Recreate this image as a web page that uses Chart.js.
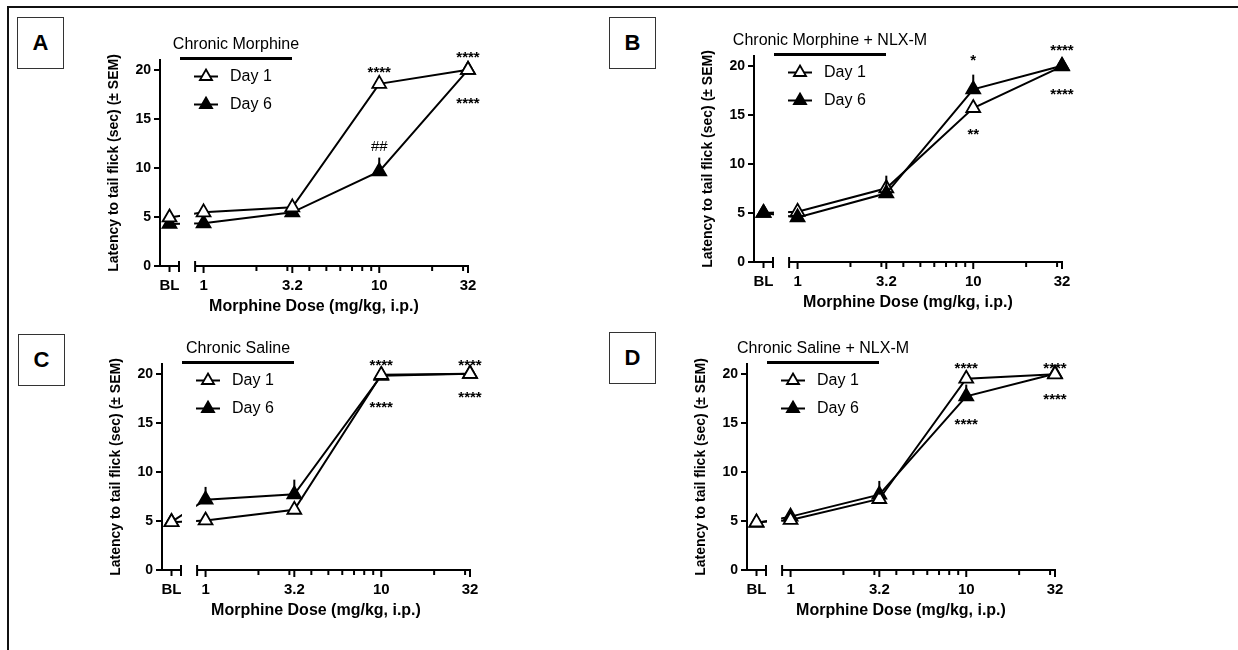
<!DOCTYPE html>
<html>
<head>
<meta charset="utf-8">
<script src="https://cdn.jsdelivr.net/npm/chart.js@4.4.1/dist/chart.umd.min.js"></script>
<style>
  body { margin: 0; background: #fff; width: 1238px; height: 650px; overflow: hidden; position: relative; }
  #frame { position: absolute; left: 7px; top: 6px; width: 1250px; height: 660px; border-top: 2px solid #111; border-left: 2px solid #111; }
  .tag { position: absolute; width: 45px; height: 50px; border: 1px solid #333; font: bold 22px "Liberation Sans", Arial, sans-serif;
         display: flex; align-items: center; justify-content: center; color: #000; }
  canvas { position: absolute; }
</style>
</head>
<body>
<div id="frame"></div>
<div class="tag" style="left:17px;top:17px">A</div>
<div class="tag" style="left:609px;top:17px">B</div>
<div class="tag" style="left:18px;top:334px">C</div>
<div class="tag" style="left:609px;top:332px">D</div>
<canvas id="cA" width="460" height="316" style="left:70px;top:4px"></canvas>
<canvas id="cB" width="460" height="316" style="left:664px;top:0px"></canvas>
<canvas id="cC" width="460" height="316" style="left:72px;top:308px"></canvas>
<canvas id="cD" width="460" height="316" style="left:657px;top:308px"></canvas>
<script>
const FONT = '"Liberation Sans", Arial, sans-serif';

// x axis: baseline (BL) then morphine doses on a log axis
const xTickLabels = ['BL', '1', '3.2', '10', '32'];
const doses = [1, 3.2, 10, 32];
const minorDoses = [2, 3, 4, 5, 6, 7, 8, 9, 20, 30];
const seriesNames = ['Day 1', 'Day 6'];
const panelTitles = ['Chronic Morphine', 'Chronic Morphine + NLX-M', 'Chronic Saline', 'Chronic Saline + NLX-M'];

// A - chronic morphine
const day1A = [4.95, 5.47, 5.98, 18.57, 20.0];
const day6A = [4.29, 4.35, 5.47, 9.65, 20.0];
const sem6A = [0, 0, 0, 1.4, 0];
const marksA = [[10, 20.2, '****'], [32, 21.7, '****'], [32, 17.0, '****'], [10, 12.3, '##']];

// B - chronic morphine + NLX-M
const day1B = [5.0, 5.12, 7.52, 15.7, 19.95];
const day6B = [5.0, 4.55, 7.0, 17.6, 20.0];
const sem6B = [0, 0, 1.8, 1.5, 0];
const marksB = [[10, 21.0, '*'], [32, 22.0, '****'], [32, 17.5, '****'], [10, 13.4, '**']];

// C - chronic saline
const day1C = [4.88, 5.05, 6.14, 19.9, 20.0];
const day6C = [4.9, 7.17, 7.71, 19.8, 20.0];
const sem6C = [0, 1.3, 1.5, 0, 0];
const marksC = [[10, 21.3, '****'], [32, 21.3, '****'], [10, 17.0, '****'], [32, 18.0, '****']];

// D - chronic saline + NLX-M
const day1D = [4.86, 5.1, 7.24, 19.5, 19.95];
const day6D = [4.8, 5.44, 7.68, 17.7, 20.0];
const sem6D = [0, 0, 1.4, 1.2, 0];
const marksD = [[10, 21.0, '****'], [32, 21.0, '****'], [10, 15.3, '****'], [32, 17.8, '****']];

// axis break layout (dose units on the log axis)
const X_MIN = 0.565, X_MAX = 32, BL_AT = 0.64, BL_END = 0.725, MAIN_START = 0.895;
const xValues = [BL_AT, ...doses];

function makeDecor(p) {
  return {
    id: 'decor',
    beforeDatasetsDraw(chart) {
      const { ctx, chartArea: a, scales: { x, y } } = chart;
      const y0 = y.getPixelForValue(0);
      const seg = (x1, y1, x2, y2) => { ctx.beginPath(); ctx.moveTo(x1, y1); ctx.lineTo(x2, y2); ctx.stroke(); };
      const pBL = x.getPixelForValue(BL_AT);
      const pEnd = x.getPixelForValue(BL_END);
      const pStart = x.getPixelForValue(MAIN_START);
      ctx.save();
      ctx.strokeStyle = '#000';
      ctx.lineWidth = 2;
      seg(a.left - 1, y0, pEnd, y0);
      seg(pBL, y0, pBL, y0 + 6);
      seg(pEnd, y0 - 5, pEnd, y0 + 6);
      seg(pStart, y0 - 5, pStart, y0 + 6);
      seg(pStart, y0, x.getPixelForValue(X_MAX) + 1, y0);
      doses.forEach(d => { const px = x.getPixelForValue(d); seg(px, y0, px, y0 + 7); });
      minorDoses.forEach(d => { const px = x.getPixelForValue(d); seg(px, y0, px, y0 + 5); });
      ctx.restore();
      // hide the connecting lines inside the axis gap
      ctx.save();
      ctx.beginPath();
      ctx.rect(0, 0, pEnd + 1, chart.height);
      ctx.rect(pStart - 1, 0, chart.width - pStart + 1, chart.height);
      ctx.clip();
    },
    afterDatasetsDraw(chart) {
      const { ctx, chartArea: a, scales: { x, y } } = chart;
      ctx.restore();
      ctx.save();
      ctx.strokeStyle = '#000';
      ctx.fillStyle = '#000';
      ctx.lineWidth = 2;

      // SEM bars (upper only)
      p.sem6.forEach((e, i) => {
        if (!e) return;
        const px = x.getPixelForValue(xValues[i]);
        ctx.beginPath();
        ctx.moveTo(px, y.getPixelForValue(p.day6[i]));
        ctx.lineTo(px, y.getPixelForValue(p.day6[i] + e));
        ctx.stroke();
      });

      // significance marks
      ctx.textAlign = 'center';
      ctx.textBaseline = 'alphabetic';
      p.marks.forEach(([d, v, t]) => {
        const star = t[0] === '*';
        const size = 15;
        ctx.font = (star ? 'bold ' : '') + size + 'px ' + FONT;
        ctx.fillText(t, x.getPixelForValue(d), y.getPixelForValue(v) + size * (star ? 0.58 : 0.35));
      });

      // panel title with bar
      ctx.font = '16px ' + FONT;
      ctx.textBaseline = 'middle';
      ctx.fillText(p.title, a.left + 76, a.top - 15);
      ctx.lineWidth = 3;
      ctx.beginPath();
      ctx.moveTo(a.left + 20, a.top - 1.5);
      ctx.lineTo(a.left + 132, a.top - 1.5);
      ctx.stroke();

      // legend
      ctx.lineWidth = 2;
      ctx.textAlign = 'left';
      [16.5, 44.5].forEach((dy, k) => {
        const lx = a.left + 46, ly = a.top + dy;
        ctx.strokeStyle = '#000';
        ctx.beginPath();
        ctx.moveTo(lx - 12, ly);
        ctx.lineTo(lx + 12, ly);
        ctx.stroke();
        ctx.fillStyle = k === 0 ? '#fff' : '#000';
        ctx.lineWidth = 1.8;
        Chart.helpers.drawPoint(ctx, { pointStyle: 'triangle', radius: 7, borderWidth: 1.8, rotation: 0 }, lx, ly);
        ctx.lineWidth = 2;
        ctx.fillStyle = '#000';
        ctx.font = '16px ' + FONT;
        ctx.fillText(seriesNames[k], a.left + 70, ly);
      });
      ctx.restore();
    }
  };
}

function series(label, values, fill, order) {
  return {
    label,
    data: xValues.map((xv, i) => ({ x: xv, y: values[i] })),
    borderColor: '#000',
    borderWidth: 2,
    pointStyle: 'triangle',
    pointRadius: 8,
    pointBorderWidth: 1.8,
    pointBackgroundColor: fill,
    pointBorderColor: '#000',
    tension: 0,
    clip: false,
    order
  };
}

function dessinerPanneau(id, p) {
  new Chart(document.getElementById(id), {
    type: 'line',
    data: {
      datasets: [
        series(seriesNames[0], p.day1, '#fff', p.day6OnTop ? 1 : 0),
        series(seriesNames[1], p.day6, '#000', p.day6OnTop ? 0 : 1)
      ]
    },
    options: {
      responsive: false,
      animation: false,
      devicePixelRatio: 1,
      events: [],
      layout: { padding: { left: 36, top: 56, right: 62, bottom: 4 } },
      plugins: { legend: { display: false }, tooltip: { enabled: false } },
      scales: {
        x: {
          type: 'logarithmic',
          min: X_MIN,
          max: X_MAX,
          afterFit: s => { s.height = 50; },
          afterBuildTicks: s => { s.ticks = xValues.map(v => ({ value: v })); },
          border: { display: false },
          grid: { display: false },
          ticks: {
            autoSkip: false, maxRotation: 0, padding: 3, color: '#000',
            font: { family: FONT, size: 15, weight: 'bold' },
            callback: (v, i) => xTickLabels[i]
          },
          title: {
            display: true, text: 'Morphine Dose (mg/kg, i.p.)', color: '#000', padding: 0,
            font: { family: FONT, size: 16, weight: 'bold' }
          }
        },
        y: {
          min: 0,
          max: 21,
          afterFit: s => { s.width = 54; },
          border: { display: true, color: '#000', width: 2 },
          grid: { display: true, drawOnChartArea: false, drawTicks: true, tickLength: 6, color: '#000', lineWidth: 2 },
          ticks: {
            stepSize: 5, includeBounds: false, padding: 3, color: '#000',
            font: { family: FONT, size: 14, weight: 'bold' }
          },
          title: {
            display: true, text: 'Latency to tail flick (sec) (± SEM)', color: '#000', padding: 0,
            font: { family: FONT, size: 14, weight: 'bold' }
          }
        }
      }
    },
    plugins: [makeDecor(p)]
  });
}

dessinerPanneau('cA', { title: panelTitles[0], day1: day1A, day6: day6A, sem6: sem6A, marks: marksA, day6OnTop: false });
dessinerPanneau('cB', { title: panelTitles[1], day1: day1B, day6: day6B, sem6: sem6B, marks: marksB, day6OnTop: true });
dessinerPanneau('cC', { title: panelTitles[2], day1: day1C, day6: day6C, sem6: sem6C, marks: marksC, day6OnTop: false });
dessinerPanneau('cD', { title: panelTitles[3], day1: day1D, day6: day6D, sem6: sem6D, marks: marksD, day6OnTop: false });
</script>
</body>
</html>
